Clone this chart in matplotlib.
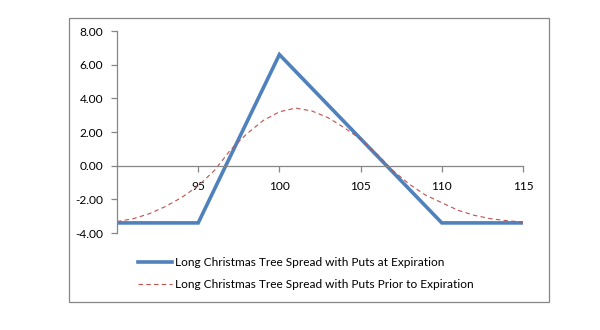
import matplotlib
matplotlib.use("Agg")
import matplotlib.pyplot as plt
from matplotlib.patches import Rectangle

# Data
exp_x = [90, 95, 100, 110, 115]
exp_y = [-3.4, -3.4, 6.6, -3.4, -3.4]

prior_x = list(range(90, 116))
prior_y = [-3.32, -3.15, -2.85, -2.42, -1.88, -1.2, -0.28, 0.95, 1.9, 2.68,
           3.2, 3.42, 3.25, 2.85, 2.25, 1.58, 0.7, -0.3, -1.1, -1.75,
           -2.2, -2.65, -2.95, -3.15, -3.27, -3.35]

x_ticks = [95, 100, 105, 110, 115]
y_ticks = [-4, -2, 0, 2, 4, 6, 8]

label_exp = "Long Christmas Tree Spread with Puts at Expiration"
label_prior = "Long Christmas Tree Spread with Puts Prior to Expiration"

plt.rcParams['font.family'] = ['Lato', 'DejaVu Sans']
gray = '#868686'

fig = plt.figure(figsize=(6, 3.3), dpi=100)
ax = fig.add_axes([117/600, 1-233/330, (523-117)/600, (233-31)/330])

ax.plot(exp_x, exp_y, color='#4F81BD', lw=2.6, label=label_exp, solid_joinstyle='miter')
ax.plot(prior_x, prior_y, color='#C0504D', lw=0.8, ls=(0, (4, 3)), label=label_prior)

ax.set_xlim(90, 115)
ax.set_ylim(-4, 8)
ax.set_xticks(x_ticks)
ax.set_yticks(y_ticks)
ax.set_yticklabels([f"{v:.2f}" for v in y_ticks])

for s in ['top', 'right']:
    ax.spines[s].set_visible(False)
ax.spines['bottom'].set_position(('data', 0))
for s in ['left', 'bottom']:
    ax.spines[s].set_color(gray)
    ax.spines[s].set_linewidth(0.9)
ax.tick_params(axis='both', colors=gray, labelcolor='black', labelsize=8.6,
               length=4, width=0.9, direction='out')
ax.tick_params(axis='x', pad=7)
ax.tick_params(axis='y', pad=6)

leg = fig.legend(loc='upper left', bbox_to_anchor=(133/600, 1-252/330),
                 frameon=False, fontsize=8.6, handlelength=2.9,
                 handletextpad=0.25, labelspacing=0.95, borderaxespad=0)

fig.patches.append(Rectangle((69/600, 1-302/330), 480/600, 284/330,
                             transform=fig.transFigure, fill=False,
                             edgecolor=gray, lw=0.9))

fig.savefig("out.png", dpi=100)
